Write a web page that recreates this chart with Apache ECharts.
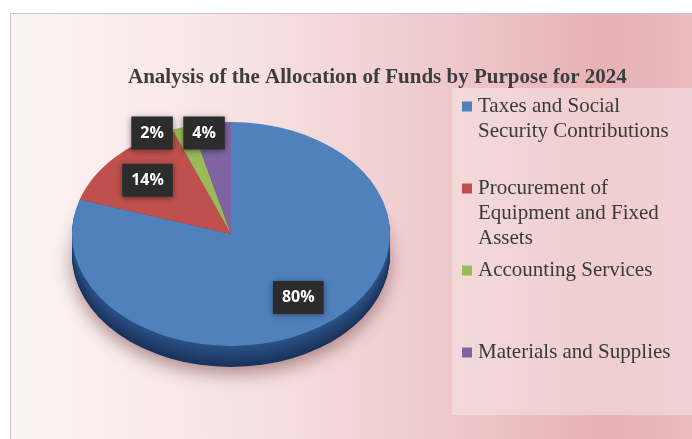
<!DOCTYPE html>
<html>
<head>
<meta charset="utf-8">
<script src="https://cdn.jsdelivr.net/npm/echarts@6/dist/echarts.min.js"></script>
<style>
html, body { margin: 0; padding: 0; background: #fff; }
#main { width: 692px; height: 439px; }
</style>
</head>
<body>
<div id="main"></div>
<script>
var categories = ['Taxes and Social Security Contributions', 'Procurement of Equipment and Fixed Assets', 'Accounting Services', 'Materials and Supplies'];
var values = [80, 14, 2, 4];
var colors = ['#4f81bd', '#c0504d', '#9bbb59', '#8064a2'];
var sideTop = ['#2b538a', '#8a3533', '#6a8a34', '#58437a'];
var sideBottom = ['#1a3259', '#5e2220', '#45591f', '#3a2b52'];

var myChart = echarts.init(document.getElementById('main'));

var total = values.reduce(function (a, b) { return a + b; }, 0);
// tilted pie: centre, radii of the top face and thickness
var cx = 231, cy = 234, rx = 159, ry = 112, depth = 21;

function angles(i) {
  var before = 0;
  for (var k = 0; k < i; k++) before += values[k];
  return [-Math.PI / 2 + 2 * Math.PI * before / total,
          -Math.PI / 2 + 2 * Math.PI * (before + values[i]) / total];
}

// big slices get the label inside, small ones go in a row above the pie
function labelSpots() {
  var spots = [], lastX = Infinity;
  for (var i = values.length - 1; i >= 0; i--) {
    var a = angles(i), mid = (a[0] + a[1]) / 2;
    if (values[i] / total >= 0.05) {
      spots[i] = [cx + Math.cos(mid) * rx * 0.72, cy + Math.sin(mid) * ry * 0.7];
    } else {
      var x = Math.min(cx + Math.cos(mid) * rx - 7, lastX - 52);
      spots[i] = [x, cy - ry + 11];
      lastX = x;
    }
  }
  return spots;
}

function wrap(name, max) {
  var words = name.split(' '), lines = [], cur = '';
  words.forEach(function (w) {
    if (cur && (cur + ' ' + w).length > max) { lines.push(cur); cur = w; }
    else cur = cur ? cur + ' ' + w : w;
  });
  lines.push(cur);
  return lines;
}

function sliceSeries(i) {
  return {
    type: 'custom',
    name: categories[i],
    coordinateSystem: 'none',
    z: 3,
    data: [values[i]],
    renderItem: function (params, api) {
      var a = angles(i), spot = labelSpots()[i];
      return {
        type: 'group',
        children: [{
          type: 'sector',
          x: cx, y: cy, scaleY: ry / rx,
          shape: { cx: 0, cy: 0, r0: 0, r: rx, startAngle: a[0], endAngle: a[1], clockwise: true },
          style: { fill: colors[i] }
        }, {
          type: 'text',
          x: spot[0], y: spot[1], z2: 50,
          style: {
            text: Math.round(api.value(0) / total * 100) + '%',
            fill: '#fff',
            fontFamily: 'Open Sans',
            fontWeight: 'bold',
            fontSize: 16,
            align: 'center',
            verticalAlign: 'middle',
            backgroundColor: '#2c2c2c',
            padding: [9, 9, 8, 9],
            shadowBlur: 6,
            shadowColor: 'rgba(0,0,0,0.45)',
            shadowOffsetY: 1
          }
        }]
      };
    }
  };
}

var series = categories.map(function (c, i) { return sliceSeries(i); });

// the side wall, drawn as stacked copies of each slice under the top face
series.push({
  type: 'custom',
  name: 'side',
  coordinateSystem: 'none',
  z: 2,
  silent: true,
  data: values,
  renderItem: function (params, api) {
    var i = params.dataIndex, a = angles(i), layers = [];
    for (var d = depth; d >= 1; d--) {
      layers.push({
        type: 'sector',
        x: cx, y: cy + d, scaleY: ry / rx,
        shape: { cx: 0, cy: 0, r0: 0, r: rx, startAngle: a[0], endAngle: a[1], clockwise: true },
        style: {
          fill: echarts.color.lerp(d / depth, [sideTop[i], sideBottom[i]]),
          shadowBlur: d === depth ? 18 : 0,
          shadowColor: 'rgba(110,60,60,0.55)',
          shadowOffsetY: d === depth ? 7 : 0
        }
      });
    }
    return { type: 'group', children: layers };
  }
});

var rich = {
  t: { fontFamily: 'Liberation Serif', fontSize: 21, lineHeight: 25, color: '#3a3a3a' },
  g: { width: 6 },
  p: { width: 16 }
};
colors.forEach(function (c, i) {
  rich['m' + i] = { width: 10, height: 10, backgroundColor: c };
});

var option = {
  title: {
    text: 'Analysis of the Allocation of Funds by Purpose for 2024',
    left: 128,
    top: 67,
    padding: 0,
    textStyle: {
      fontFamily: 'Liberation Serif',
      fontWeight: 'bold',
      fontSize: 21,
      color: '#3d3d3d'
    }
  },
  legend: {
    data: categories,
    orient: 'vertical',
    left: 452,
    top: 88,
    padding: [6, 30, 0, 5],
    itemGap: 7,
    itemWidth: 0,
    itemHeight: 10,
    icon: 'none',
    selectedMode: false,
    backgroundColor: 'rgba(250,240,240,0.45)',
    formatter: function (name) {
      var i = categories.indexOf(name);
      var lines = wrap(name, 22).map(function (l, k) {
        return (k === 0 ? '{m' + i + '|}{g|}' : '{p|}') + '{t|' + l + '}';
      });
      while (lines.length < 3) lines.push('{t| }');
      return lines.join('\n');
    },
    textStyle: {
      fontFamily: 'Liberation Serif',
      fontSize: 21,
      lineHeight: 25,
      color: '#3a3a3a',
      rich: rich
    }
  },
  graphic: [{
    type: 'rect',
    z: -10,
    silent: true,
    shape: { x: 10.5, y: 13.5, width: 700, height: 440 },
    style: {
      fill: new echarts.graphic.LinearGradient(0, 0, 1, 0, [
        { offset: 0, color: '#fcf4f4' },
        { offset: 0.3, color: '#f8e5e6' },
        { offset: 0.6, color: '#efcbcd' },
        { offset: 0.85, color: '#e7b1b5' },
        { offset: 1, color: '#ebbdc0' }
      ]),
      stroke: '#c6c6c6',
      lineWidth: 1
    }
  }],
  series: series
};

myChart.setOption(option);
</script>
</body>
</html>
